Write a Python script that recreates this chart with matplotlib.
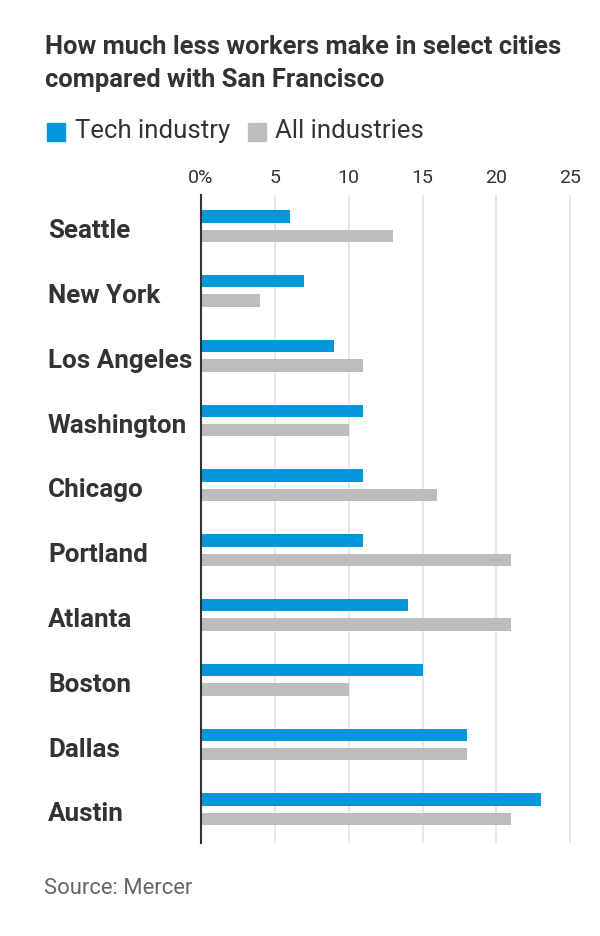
import numpy as np
import matplotlib
matplotlib.use("Agg")
from matplotlib import pyplot as plt
from matplotlib.patches import Rectangle
from matplotlib.transforms import blended_transform_factory

# data
cities = ["Seattle", "New York", "Los Angeles", "Washington", "Chicago",
          "Portland", "Atlanta", "Boston", "Dallas", "Austin"]
tech = [6, 7, 9, 11, 11, 11, 14, 15, 18, 23]
all_ind = [13, 4, 11, 10, 16, 21, 21, 10, 18, 21]
ticks = [0, 5, 10, 15, 20, 25]
tick_labels = ["0%", "5", "10", "15", "20", "25"]

BLUE = "#0098db"
GRAY = "#bdbdbd"
TXT = "#333333"

plt.rcParams['font.family'] = ['Roboto', 'DejaVu Sans']

fig = plt.figure(figsize=(6, 9.36), dpi=100)
ax = fig.add_axes([0.335, 0.0994, 0.6228, 0.6923])

y = np.arange(len(cities))
h = 0.19
ax.barh(y - 0.15, tech, height=h, color=BLUE, zorder=3)
ax.barh(y + 0.15, all_ind, height=h, color=GRAY, zorder=3)

ax.set_xlim(0, 25.3)
ax.set_ylim(9.52, -0.48)
ax.set_xticks(ticks)
ax.set_xticklabels(tick_labels, fontsize=14, color=TXT)
ax.xaxis.tick_top()
ax.tick_params(axis='x', length=0, pad=6)
ax.grid(axis='x', color="#e3e3e3", lw=1.2, zorder=0)
ax.set_yticks(y)
ax.set_yticklabels([])
ax.tick_params(axis='y', length=0)
for s in ["top", "right", "bottom"]:
    ax.spines[s].set_visible(False)
ax.spines["left"].set_color("#333333")
ax.spines["left"].set_linewidth(1.5)
ax.spines["left"].set_zorder(4)

# city labels, fixed left edge in figure coords
lab_tr = blended_transform_factory(fig.transFigure, ax.transData)
for i, c in enumerate(cities):
    ax.text(48 / 600, i + 0.08, c, transform=lab_tr, ha='left', va='center',
            fontsize=18.7, fontweight='bold', color=TXT)

fig.text(45 / 600, 1 - 47 / 936, "How much less workers make in select cities",
         fontsize=18.4, fontweight='bold', color=TXT, va='center', ha='left')
fig.text(45 / 600, 1 - 80 / 936, "compared with San Francisco",
         fontsize=18.4, fontweight='bold', color=TXT, va='center', ha='left')

# legend
fig.patches.append(Rectangle((47 / 600, 1 - 141 / 936), 18 / 600, 18 / 936,
                             transform=fig.transFigure, color=BLUE))
fig.text(75 / 600, 1 - 131 / 936, "Tech industry", fontsize=18.5, color=TXT,
         va='center', ha='left')
fig.patches.append(Rectangle((248 / 600, 1 - 141 / 936), 18 / 600, 18 / 936,
                             transform=fig.transFigure, color=GRAY))
fig.text(275 / 600, 1 - 131 / 936, "All industries", fontsize=18.5, color=TXT,
         va='center', ha='left')

fig.text(44 / 600, 1 - 889 / 936, "Source: Mercer", fontsize=15.8, color="#666666",
         va='center', ha='left')

fig.savefig("out.png", dpi=100, facecolor="white")
